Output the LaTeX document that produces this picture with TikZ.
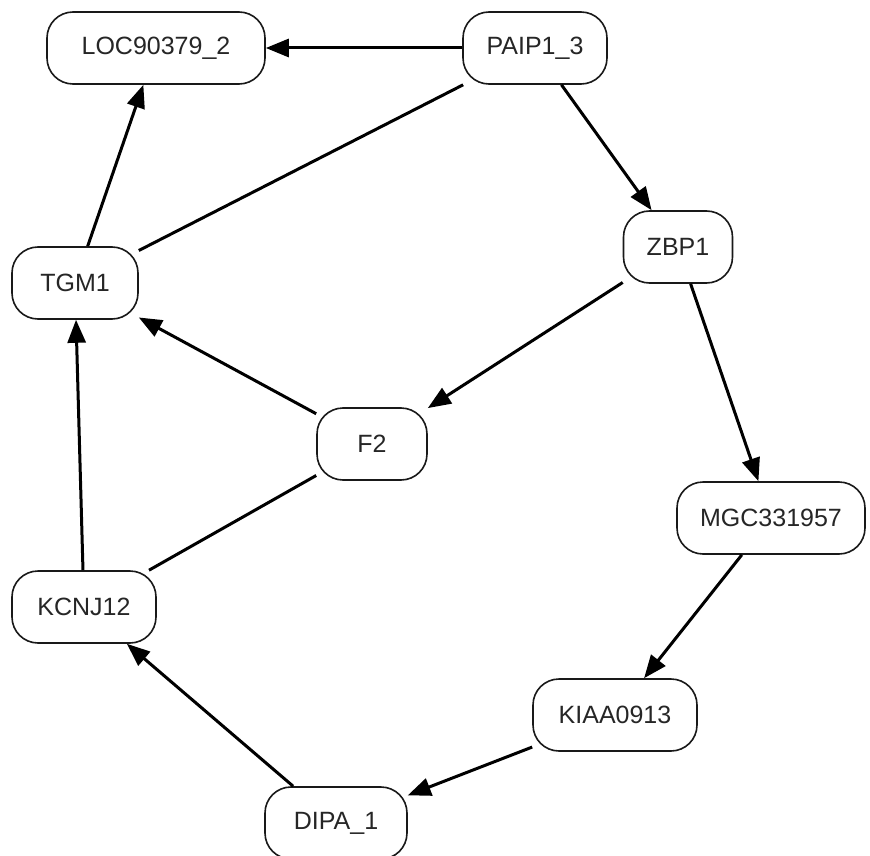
\documentclass[tikz,border=0pt]{standalone}
\usepackage{fontspec}
\setmainfont{Liberation Sans}
\usetikzlibrary{arrows.meta}
\begin{document}
\begin{tikzpicture}[x=1pt,y=-1pt,
  gnode/.style={draw=black!90, line width=1.6pt, rounded corners=26pt, inner sep=0pt,
    minimum height=72pt, font=\fontsize{25}{29}\selectfont, text=black!85, fill=white},
  edge/.style={line width=3pt, black},
  arr/.style={edge, -{Triangle[length=23pt,width=18pt]}}]
\useasboundingbox (0,0) rectangle (870,856);
\node[gnode, minimum width=218pt] (loc) at (156,48) {LOC90379\_2};
\node[gnode, minimum width=144pt] (paip) at (535,48) {PAIP1\_3};
\node[gnode, minimum width=109pt] (zbp) at (678,247) {ZBP1};
\node[gnode, minimum width=126pt] (tgm) at (75,283) {TGM1};
\node[gnode, minimum width=110pt] (f2) at (372,444) {F2};
\node[gnode, minimum width=188pt] (mgc) at (771,518) {MGC331957};
\node[gnode, minimum width=144pt] (kcnj) at (84,607) {KCNJ12};
\node[gnode, minimum width=164pt] (kiaa) at (615,715) {KIAA0913};
\node[gnode, minimum width=142pt] (dipa) at (336,823) {DIPA\_1};
\draw[arr] (paip) -- (loc);
\draw[edge] (paip) -- (tgm);
\draw[arr] (paip) -- (zbp);
\draw[arr] (tgm) -- (loc);
\draw[arr] (zbp) -- (f2);
\draw[arr] (zbp) -- (mgc);
\draw[arr] (f2) -- (tgm);
\draw[edge] (f2) -- (kcnj);
\draw[arr] (kcnj) -- (tgm);
\draw[arr] (mgc) -- (kiaa);
\draw[arr] (kiaa) -- (dipa);
\draw[arr] (dipa) -- (kcnj);
\end{tikzpicture}
\end{document}
